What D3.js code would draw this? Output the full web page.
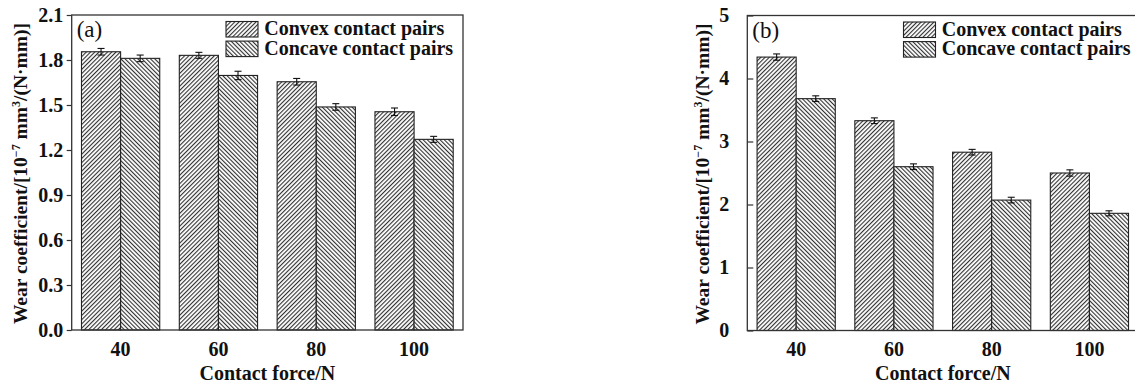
<!DOCTYPE html>
<html>
<head>
<meta charset="utf-8">
<script src="https://cdn.jsdelivr.net/npm/d3@7"></script>
<style>
  body { margin: 0; background: #fff; }
  svg { display: block; }
  svg text { font-family: "Liberation Serif", "Times New Roman", Tinos, "DejaVu Serif", serif; }
</style>
</head>
<body>
<div class="graphic"></div>
<script>
// data
const forces = ["40", "60", "80", "100"];
const seriesNames = ["Convex contact pairs", "Concave contact pairs"];

const convexA = [1.855, 1.831, 1.655, 1.455];
const concaveA = [1.811, 1.697, 1.487, 1.271];
const convexErrA = [0.022, 0.02, 0.022, 0.025];
const concaveErrA = [0.022, 0.028, 0.022, 0.02];
const ticksA = [0, 0.3, 0.6, 0.9, 1.2, 1.5, 1.8, 2.1];

const convexB = [4.34, 3.33, 2.83, 2.50];
const concaveB = [3.68, 2.60, 2.07, 1.86];
const convexErrB = [0.05, 0.045, 0.045, 0.05];
const concaveErrB = [0.045, 0.045, 0.045, 0.04];
const ticksB = [0, 1, 2, 3, 4, 5];

const W = 1135, H = 387;
const FS = 20;

const svg = d3.select(".graphic")
  .append("svg")
  .attr("width", W)
  .attr("height", H)

// hatch patterns
const defs = svg.append("defs");
const hatch = (id, angle) => {
  const p = defs.append("pattern")
    .attr("id", id)
    .attr("patternUnits", "userSpaceOnUse")
    .attr("width", 3.0)
    .attr("height", 10)
    .attr("patternTransform", `rotate(${angle})`);
  p.append("rect").attr("width", 3.0).attr("height", 10).attr("fill", "#fff");
  p.append("line")
    .attr("x1", 0.6).attr("y1", 0).attr("x2", 0.6).attr("y2", 10)
    .attr("stroke", "#1a1a1a").attr("stroke-width", 1.0);
}
hatch("convex", 45);
hatch("concave", -45);
const fills = ["url(#convex)", "url(#concave)"];

const drawPanel = (cfg) => {
  const g = svg.append("g");

  const x = d3.scaleBand()
    .domain(forces)
    .range([cfg.left, cfg.right])
    .padding(0);

  const y = d3.scaleLinear()
    .domain([0, cfg.max])
    .range([cfg.bottom, cfg.top]);

  const barW = x.bandwidth() * 0.4;

  const rows = forces.map((f, i) => ({
    force: f,
    vals: [cfg.convex[i], cfg.concave[i]],
    errs: [cfg.convexErr[i], cfg.concaveErr[i]]
  }));

  const grp = g.selectAll("g.grp")
    .data(rows)
    .join("g")
      .attr("class", "grp")
      .attr("transform", d => `translate(${x(d.force) + x.bandwidth() / 2},0)`);

  [0, 1].forEach(k => {
    grp.append("rect")
      .attr("x", k === 0 ? -barW : 0)
      .attr("y", d => y(d.vals[k]))
      .attr("width", barW)
      .attr("height", d => cfg.bottom - y(d.vals[k]))
      .attr("fill", fills[k])
      .attr("stroke", "#222")
      .attr("stroke-width", 1.1);

    const cx = k === 0 ? -barW / 2 : barW / 2;
    grp.append("line")
      .attr("x1", cx).attr("x2", cx)
      .attr("y1", d => y(d.vals[k] + d.errs[k]))
      .attr("y2", d => y(d.vals[k] - d.errs[k]))
      .attr("stroke", "#111").attr("stroke-width", 1.1);
    [1, -1].forEach(s => {
      grp.append("line")
        .attr("x1", cx - 3.5).attr("x2", cx + 3.5)
        .attr("y1", d => y(d.vals[k] + s * d.errs[k]))
        .attr("y2", d => y(d.vals[k] + s * d.errs[k]))
        .attr("stroke", "#111").attr("stroke-width", 1.1);
    });
  });

  // frame
  g.append("rect")
    .attr("x", cfg.left).attr("y", cfg.top)
    .attr("width", cfg.right - cfg.left)
    .attr("height", cfg.bottom - cfg.top)
    .attr("fill", "none")
    .attr("stroke", "#333")
    .attr("stroke-width", 1.3);

  // y axis (panel a ticks point out, panel b ticks point in)
  const yAxis = g.append("g")
    .attr("transform", `translate(${cfg.left},0)`)
    .call(d3.axisLeft(y).tickValues(cfg.ticks).tickFormat(cfg.fmt).tickSize(cfg.tick).tickPadding(cfg.yPad));
  yAxis.attr("font-family", null);
  yAxis.select(".domain").remove();
  yAxis.selectAll("line").attr("stroke", "#333").attr("stroke-width", 1.2);
  yAxis.selectAll("text")
    .attr("font-size", FS).attr("font-weight", "bold").attr("fill", "#111");

  // x axis labels
  const xAxis = g.append("g")
    .attr("transform", `translate(0,${cfg.bottom})`)
    .call(d3.axisBottom(x).tickSize(0).tickPadding(11.5));
  xAxis.attr("font-family", null);
  xAxis.select(".domain").remove();
  xAxis.selectAll("text")
    .attr("font-size", FS).attr("font-weight", "bold").attr("fill", "#111");

  g.append("text")
    .attr("x", (cfg.left + cfg.right) / 2)
    .attr("y", 380)
    .attr("text-anchor", "middle")
    .attr("font-size", FS).attr("font-weight", "bold").attr("fill", "#111")
    .text("Contact force/N");

  // y title
  const yt = g.append("text")
    .attr("transform", `translate(${cfg.titleX},${(cfg.top + cfg.bottom) / 2 + 1}) rotate(-90)`)
    .attr("text-anchor", "middle")
    .attr("font-size", 19.5).attr("font-weight", "bold").attr("fill", "#111");
  yt.append("tspan").text("Wear coefficient/[10");
  yt.append("tspan").attr("dy", -7).attr("font-size", 12).text("\u22127");
  yt.append("tspan").attr("dy", 7).text(" mm");
  yt.append("tspan").attr("dy", -7).attr("font-size", 12).text("3");
  yt.append("tspan").attr("dy", 7).text("/(N\u00b7mm)]");

  // panel tag
  g.append("text")
    .attr("x", cfg.left + 5).attr("y", cfg.top + 22)
    .attr("font-size", 23).attr("fill", "#111")
    .text(cfg.tag);

  // legend
  const leg = g.selectAll("g.leg")
    .data(seriesNames)
    .join("g")
      .attr("class", "leg")
      .attr("transform", (d, i) => `translate(${cfg.legX},${cfg.top + 6.5 + i * 19.6})`);
  leg.append("rect")
    .attr("width", 32).attr("height", 15.5)
    .attr("fill", (d, i) => fills[i])
    .attr("stroke", "#222").attr("stroke-width", 1.1);
  leg.append("text")
    .attr("x", 38.3).attr("y", 13.5)
    .attr("font-size", FS).attr("font-weight", "bold").attr("fill", "#111")
    .text(d => d);
}

drawPanel({
  left: 71.7, right: 463, top: 15, bottom: 330, max: 2.1,
  convex: convexA, concave: concaveA, convexErr: convexErrA, concaveErr: concaveErrA,
  ticks: ticksA, fmt: d3.format(".1f"), tag: "(a)", legX: 226, titleX: 27, yPad: 3.5, tick: 5
});

drawPanel({
  left: 747.3, right: 1138.3, top: 15.5, bottom: 330.5, max: 5,
  convex: convexB, concave: concaveB, convexErr: convexErrB, concaveErr: concaveErrB,
  ticks: ticksB, fmt: d3.format("d"), tag: "(b)", legX: 903.5, titleX: 709, yPad: 18, tick: -6
});
</script>
</body>
</html>
